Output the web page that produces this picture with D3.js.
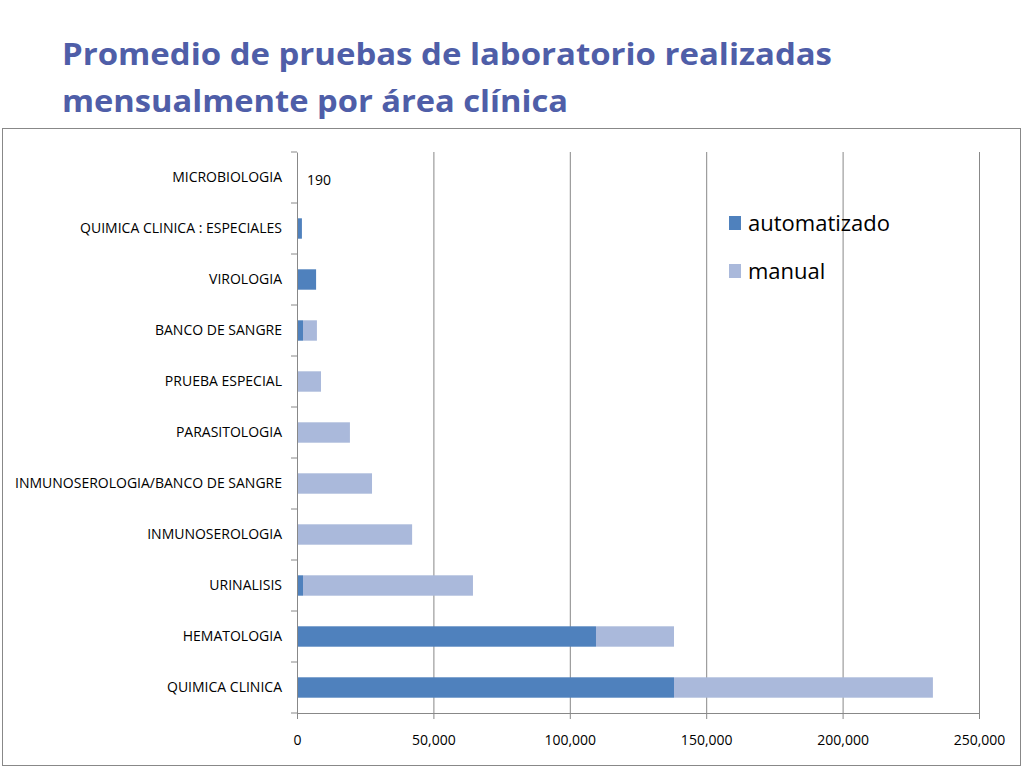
<!DOCTYPE html>
<html><head><meta charset="utf-8">
<script src="https://cdn.jsdelivr.net/npm/d3@7"></script>
<style>body{margin:0;background:#fff}svg{display:block}</style>
</head><body>
<svg id="chart" width="1024" height="768"></svg>
<script>
"use strict";

var categories = [ "MICROBIOLOGIA", "QUIMICA CLINICA : ESPECIALES", "VIROLOGIA", "BANCO DE SANGRE",
	"PRUEBA ESPECIAL", "PARASITOLOGIA", "INMUNOSEROLOGIA/BANCO DE SANGRE", "INMUNOSEROLOGIA",
	"URINALISIS", "HEMATOLOGIA", "QUIMICA CLINICA" ];
var automatizado = [ 0, 1800, 7000, 2200, 0, 0, 0, 0, 2200, 109600, 138200 ];
var manual = [ 190, 0, 0, 5100, 8800, 19400, 27500, 42200, 62300, 28600, 94900 ];
var xTicks = [ 0, 50000, 100000, 150000, 200000, 250000 ];
var seriesNames = [ "automatizado", "manual" ];
var colors = [ "#4f81bd", "#aab9db" ];

var svg = d3.select( "#chart" );
var font = "'Open Sans', 'Noto Sans', sans-serif";

// titulo
svg.append( "text" ).attr( "x", 62 ).attr( "y", 65 ).attr( "textLength", 770 ).text( "Promedio de pruebas de laboratorio realizadas" );
svg.append( "text" ).attr( "x", 62 ).attr( "y", 112 ).attr( "textLength", 506 ).text( "mensualmente por área clínica" );
svg.selectAll( "text" ).attr( "lengthAdjust", "spacingAndGlyphs" ).style( "font-family", font ).style( "font-weight", "bold" )
	.style( "font-size", "31px" ).style( "fill", "#4f5ea8" );

// marco
svg.append( "rect" ).attr( "x", 2.5 ).attr( "y", 128.5 ).attr( "width", 1018 ).attr( "height", 637 )
	.attr( "fill", "none" ).attr( "stroke", "#888" );

var x = d3.scaleLinear().domain( [ 0, 250000 ] ).range( [ 297, 979 ] );
var y = d3.scaleBand().domain( categories ).range( [ 152, 713 ] ).paddingInner( 0.6 ).paddingOuter( 0.3 );

// grid
svg.append( "g" ).selectAll( "line" ).data( xTicks.slice( 1 ) ).join( "line" )
	.attr( "x1", function ( d ) { return x( d ) + 0.5 } ).attr( "x2", function ( d ) { return x( d ) + 0.5 } )
	.attr( "y1", 152 ).attr( "y2", 713 ).attr( "stroke", "#888" );

// barras apiladas
var rows = categories.map( function ( c, i ) { return { cat: c, automatizado: automatizado[ i ], manual: manual[ i ] } } );
var stack = d3.stack().keys( seriesNames )( rows );
svg.append( "g" ).selectAll( "g" ).data( stack ).join( "g" ).attr( "fill", function ( d, i ) { return colors[ i ] } )
	.selectAll( "rect" ).data( function ( d ) { return d } ).join( "rect" )
	.attr( "x", function ( d ) { return x( d[ 0 ] ) } )
	.attr( "width", function ( d ) { return x( d[ 1 ] ) - x( d[ 0 ] ) } )
	.attr( "y", function ( d ) { return y( d.data.cat ) } )
	.attr( "height", y.bandwidth() );

svg.append( "text" ).attr( "x", 307 ).attr( "y", y( "MICROBIOLOGIA" ) + y.bandwidth() / 2 + 7 )
	.text( "190" ).style( "font-family", font ).style( "font-size", "14px" ).style( "fill", "#000" );

// ejes
var xAxis = svg.append( "g" ).attr( "transform", "translate(0,713)" )
	.call( d3.axisBottom( x ).tickValues( xTicks ).tickFormat( d3.format( "," ) ).tickSize( 6 ).tickPadding( 16 ) );
var yAxis = svg.append( "g" ).attr( "transform", "translate(297,0)" )
	.call( d3.axisLeft( y ).tickSize( 0 ).tickPadding( 15 ) );
yAxis.selectAll( "line.b" ).data( d3.range( categories.length + 1 ) ).join( "line" )
	.attr( "x1", -6 ).attr( "x2", 0 )
	.attr( "y1", function ( i ) { return 152 + i * 561 / categories.length } )
	.attr( "y2", function ( i ) { return 152 + i * 561 / categories.length } )
	.attr( "stroke", "#888" );
[ xAxis, yAxis ].forEach( function ( a ) {
	a.select( ".domain" ).attr( "stroke", "#888" );
	a.selectAll( ".tick line" ).attr( "stroke", "#888" );
	a.selectAll( "text" ).style( "font-family", font ).style( "font-size", "14px" ).attr( "fill", "#000" );
} );

// leyenda
var legend = svg.append( "g" ).selectAll( "g" ).data( seriesNames ).join( "g" )
	.attr( "transform", function ( d, i ) { return "translate(729," + ( 216 + i * 48 ) + ")" } );
legend.append( "rect" ).attr( "width", 12 ).attr( "height", 14 ).attr( "fill", function ( d, i ) { return colors[ i ] } );
legend.append( "text" ).attr( "x", 19 ).attr( "y", 15 ).text( function ( d ) { return d } )
	.style( "font-family", font ).style( "font-size", "22px" ).style( "fill", "#000" );
</script>
</body></html>
